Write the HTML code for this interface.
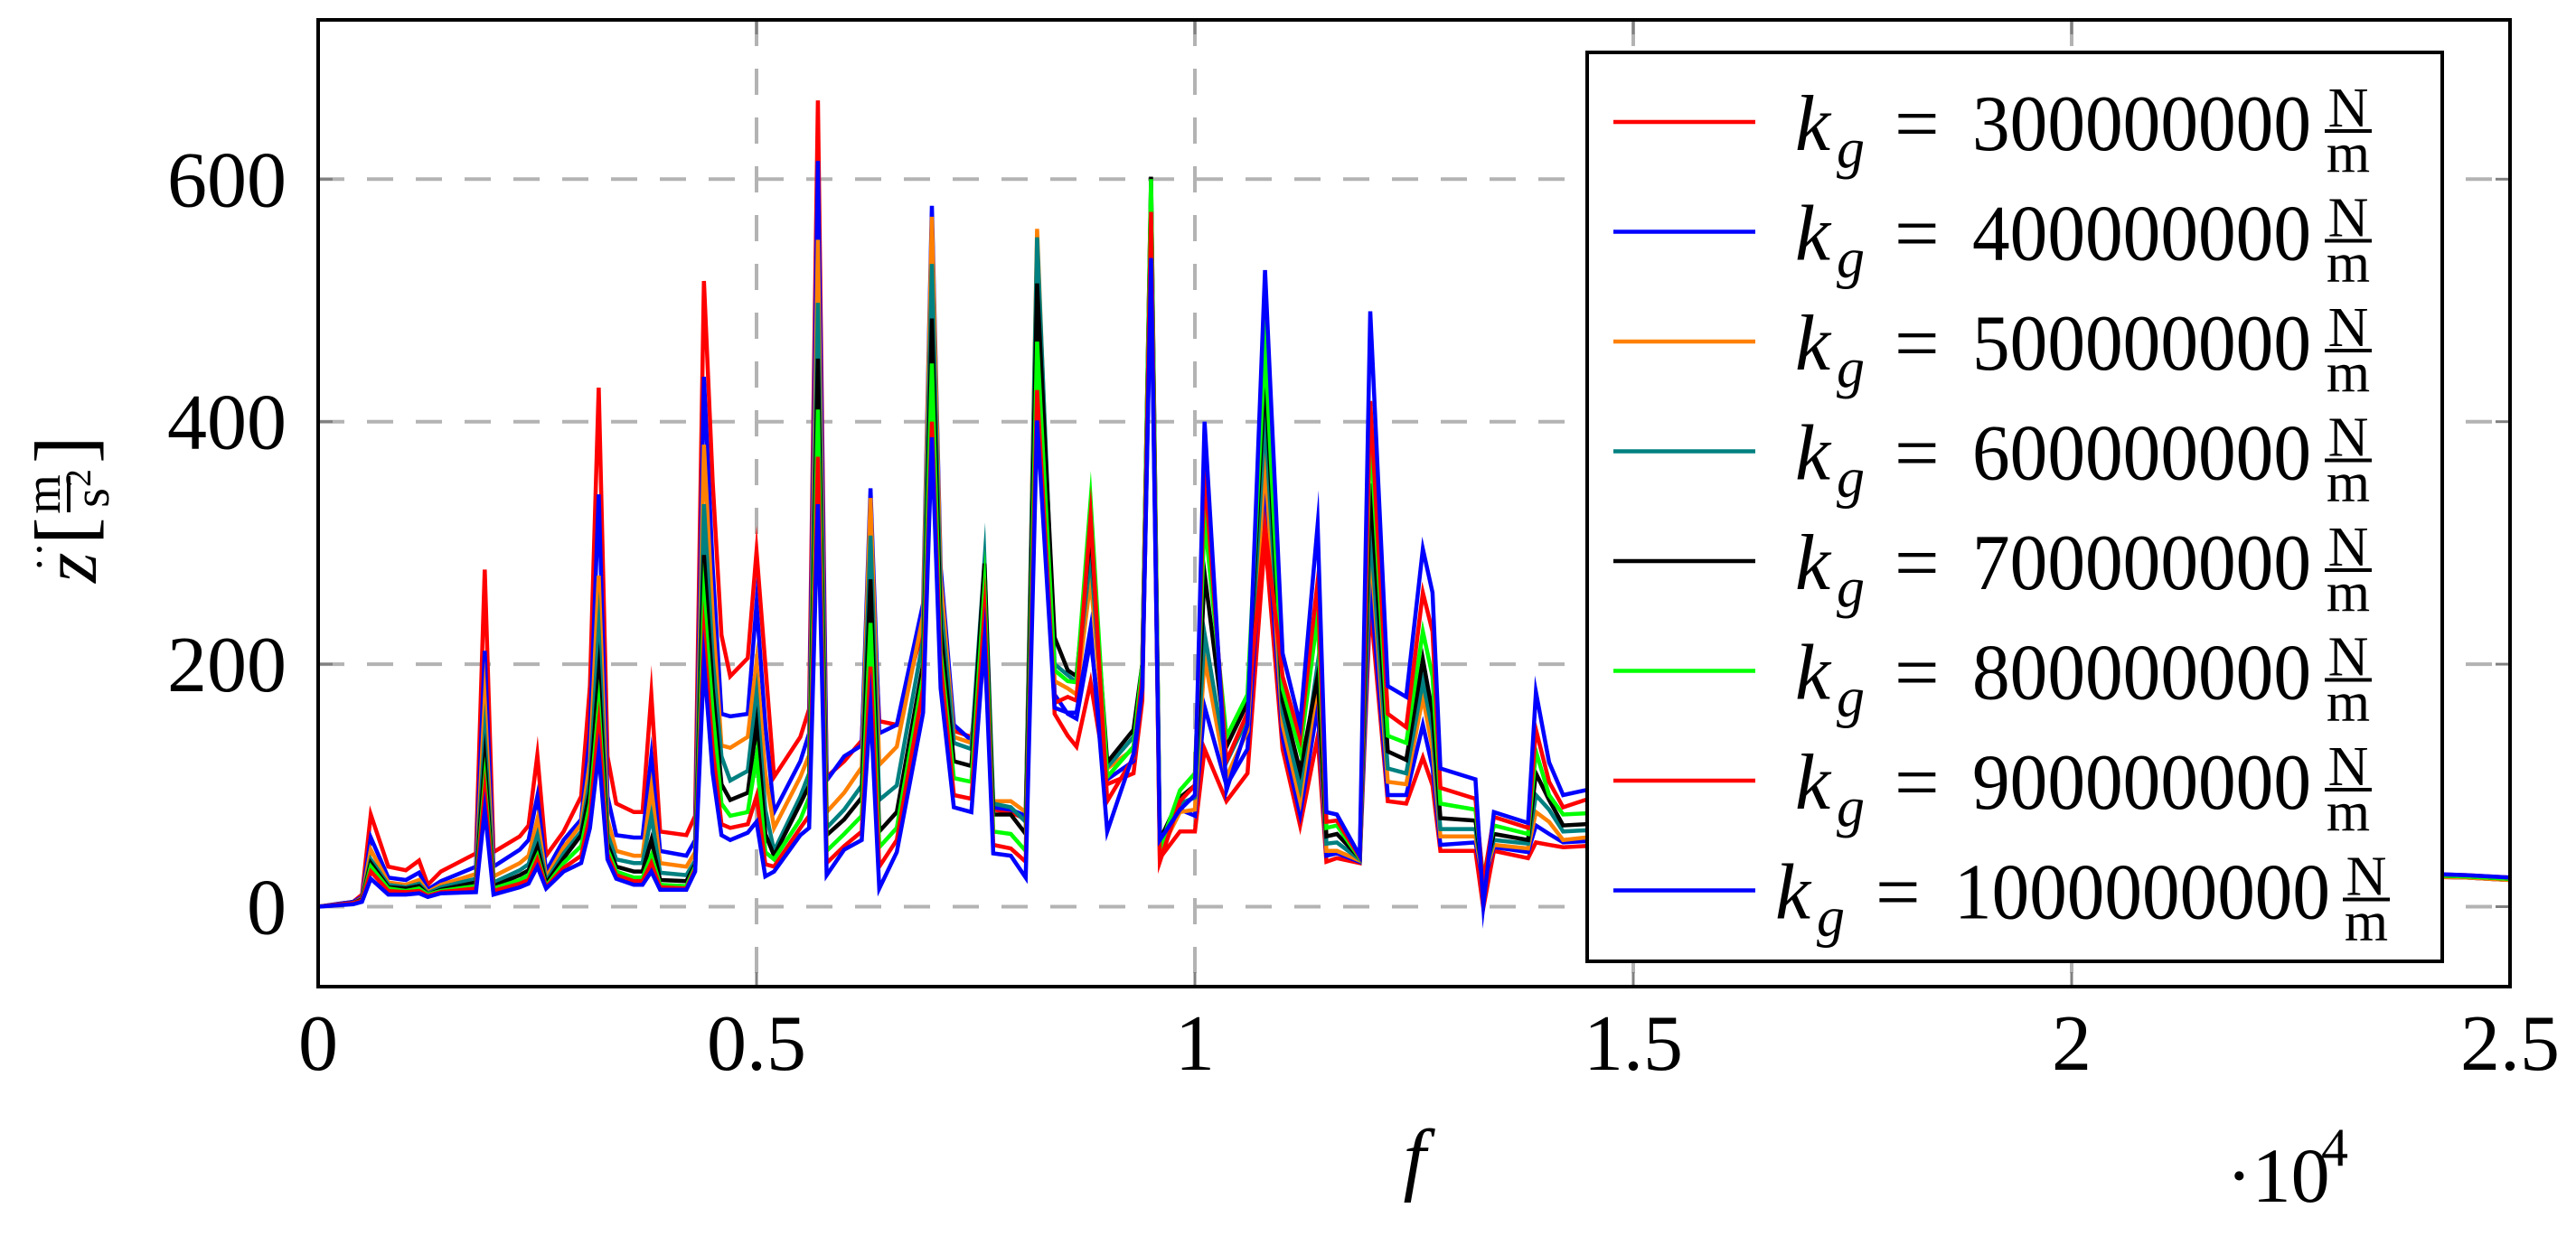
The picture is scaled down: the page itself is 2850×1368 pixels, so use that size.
<!DOCTYPE html>
<html><head><meta charset="utf-8"><style>
html,body{margin:0;padding:0;background:#fff;}
svg{display:block;font-family:"Liberation Serif",serif;}
</style></head><body>
<svg id="chart" width="2850" height="1368" viewBox="0 0 2850 1368" xmlns="http://www.w3.org/2000/svg">
<defs><clipPath id="plotclip"><rect x="352" y="22" width="2425" height="1070"/></clipPath></defs>
<rect x="0" y="0" width="2850" height="1368" fill="#fff"/>
<g id="grid"></g>
<g id="series" clip-path="url(#plotclip)"></g>
<rect x="352" y="22" width="2425" height="1070" fill="none" stroke="#000" stroke-width="4"/>
<g id="ticks"></g>
<text x="1565" y="1312" font-size="90" font-style="italic" text-anchor="middle">f</text>
<g>
<text x="2463" y="1330" font-size="86">·10</text>
<text x="2568" y="1290" font-size="60">4</text>
</g>
<g transform="translate(72,561) rotate(-90)">
<text x="-84" y="34" font-size="86" font-style="italic">z</text>
<text x="-72" y="-12" font-size="50">··</text>
<text x="-42" y="30" font-size="92">[</text>
<text x="14" y="-6" font-size="56" text-anchor="middle">m</text>
<line x1="-6" y1="4" x2="34" y2="4" stroke="#000" stroke-width="4"/>
<text x="10" y="48" font-size="56" text-anchor="middle">s</text>
<text x="22" y="28" font-size="40">2</text>
<text x="48" y="30" font-size="92">]</text>
</g>
<g id="legend"></g>
</svg>
<script>
const freqs = [0,0.04,0.05,0.06,0.08,0.10,0.115,0.125,0.14,0.18,0.19,0.20,0.23,0.24,0.25,0.26,0.28,0.30,0.31,0.32,0.33,0.34,0.36,0.37,0.38,0.39,0.42,0.43,0.44,0.45,0.46,0.47,0.49,0.50,0.51,0.52,0.55,0.56,0.57,0.58,0.60,0.62,0.63,0.64,0.66,0.69,0.70,0.71,0.725,0.745,0.76,0.77,0.79,0.807,0.82,0.84,0.855,0.865,0.881,0.90,0.93,0.94,0.95,0.96,0.983,1.00,1.011,1.036,1.06,1.08,1.10,1.12,1.14,1.15,1.162,1.188,1.20,1.22,1.241,1.26,1.271,1.28,1.32,1.329,1.341,1.38,1.389,1.404,1.42,1.445,1.6,2.0,2.45,2.5];
const kg300 = [0,4,10,76,33,30,38,18,29,44,278,45,58,67,125,42,62,91,182,428,124,85,78,78,175,62,59,75,516,350,224,190,205,293,200,107,140,163,665,107,120,137,300,153,150,230,430,250,145,140,210,80,78,72,520,159,141,132,185,101,110,170,560,40,62,62,130,87,110,304,130,67,140,37,40,36,250,87,85,123,100,46,46,-1,46,40,53,51,49,50,45,30,24,22];
const kg400 = [0,4,8,57,24,22,28,14,21,33,211,33,47,55,91,29,55,72,143,340,91,59,57,57,124,46,42,55,437,280,159,157,159,250,150,78,120,143,615,104,124,133,345,143,150,250,578,280,150,137,215,82,80,75,545,175,159,155,220,105,120,180,530,50,80,75,165,100,130,340,140,76,165,42,44,37,268,92,92,150,115,51,53,20,49,45,67,60,53,54,48,31,24,22];
const kg500 = [0,3,7,47,20,18,22,12,18,27,170,25,36,42,72,24,49,68,120,273,72,46,42,42,98,36,33,45,381,240,133,131,140,202,110,65,107,125,550,78,94,115,337,117,132,240,569,270,140,135,260,87,87,78,559,186,180,175,270,114,130,190,590,45,78,80,205,107,145,367,150,87,185,46,46,38,299,103,101,173,130,58,58,22,51,48,78,70,55,57,50,32,24,22];
const kg600 = [0,3,6,39,18,16,19,11,16,23,141,20,30,35,59,21,44,62,105,228,60,39,36,36,75,28,26,38,332,205,124,104,112,176,80,46,91,110,498,65,80,100,306,88,100,220,530,250,135,130,285,85,82,70,552,200,191,185,290,115,140,200,595,50,85,90,225,119,155,403,160,98,200,52,53,39,313,114,110,186,145,64,64,24,55,52,92,80,62,63,53,33,25,23];
const kg700 = [0,3,6,36,16,15,17,10,14,20,120,17,26,30,49,19,40,59,95,192,52,33,29,29,55,22,21,35,290,180,101,88,94,150,60,42,85,100,452,59,72,90,270,62,78,200,485,230,120,116,283,76,76,60,514,222,195,190,310,119,146,200,602,55,90,100,275,132,168,439,170,112,190,58,60,40,349,128,121,204,160,73,71,24,60,55,110,88,67,68,56,34,25,23];
const kg800 = [0,3,5,33,15,13,15,10,13,17,104,15,22,26,42,17,36,50,85,166,47,29,24,24,42,18,17,33,254,160,85,75,78,124,45,39,72,90,410,46,60,75,234,49,65,190,448,210,106,103,263,62,60,46,466,195,186,185,335,107,132,200,600,48,96,110,320,140,175,462,180,128,240,65,67,40,394,141,135,227,190,85,80,24,67,60,128,92,76,77,60,35,25,23];
const kg900 = [0,3,5,29,13,12,13,9,12,15,95,13,19,22,39,16,32,42,75,150,43,26,21,21,36,16,15,31,224,130,68,65,68,91,35,33,65,75,371,36,50,62,198,33,55,180,400,200,92,89,243,51,48,37,426,168,173,170,322,87,123,190,573,37,87,100,360,120,160,313,190,139,268,70,71,41,417,159,148,259,227,98,89,20,74,65,146,103,82,88,64,36,26,24];
const kg1000 = [0,2,4,23,10,10,11,8,11,12,80,10,16,19,33,15,29,36,65,127,39,23,18,18,29,14,14,29,202,110,59,55,61,70,25,29,59,65,332,26,47,55,165,15,45,160,387,180,82,78,220,44,42,24,401,164,160,160,230,62,126,180,535,55,80,92,400,96,150,525,209,150,315,78,76,42,491,182,173,295,259,114,105,1,78,69,177,119,92,96,68,38,26,24];
const seriesValues = [kg300,kg400,kg500,kg600,kg700,kg800,kg900,kg1000];
const seriesLabels = ["300000000","400000000","500000000","600000000","700000000","800000000","900000000","1000000000"];
const seriesColors = ["#ff0000","#0000ff","#ff8000","#008080","#000000","#00ff00","#ff0000","#0000ff"];
const xTicks = [0,0.5,1,1.5,2,2.5];
const xTickLabels = ["0","0.5","1","1.5","2","2.5"];
const yTicks = [0,200,400,600];
const yTickLabels = ["0","200","400","600"];

const NS = "http://www.w3.org/2000/svg";
const X0 = 352, X1 = 2777, Y0v = 1003.5, PXV = 268.4/200;
function xs(f){ return X0 + (f/2.5)*(X1-X0); }
function ys(v){ return Y0v - v*PXV; }
function mk(tag, attrs, parent){ const e = document.createElementNS(NS, tag); for (const k in attrs) e.setAttribute(k, attrs[k]); parent.appendChild(e); return e; }

const grid = document.getElementById('grid');
const ticks = document.getElementById('ticks');
xTicks.forEach((t,i)=>{
  const x = xs(t);
  if (i>0 && i<xTicks.length-1) {
    const l = mk('line',{x1:x,y1:22,x2:x,y2:1092,stroke:'#b3b3b3','stroke-width':4,'stroke-dasharray':'29 25'},grid);
    
    
  }
  mk('line',{x1:x,y1:1092,x2:x,y2:1076,stroke:'#808080','stroke-width':3},grid);
  mk('line',{x1:x,y1:22,x2:x,y2:38,stroke:'#808080','stroke-width':3},grid);
  const tx = mk('text',{x:x,y:1184,'font-size':88,'text-anchor':'middle'},ticks);
  tx.textContent = xTickLabels[i];
  
  
});
yTicks.forEach((t,i)=>{
  const y = ys(t);
  const l = mk('line',{x1:352,y1:y,x2:2777,y2:y,stroke:'#b3b3b3','stroke-width':4,'stroke-dasharray':'29 25'},grid);
  
  
  mk('line',{x1:352,y1:y,x2:368,y2:y,stroke:'#808080','stroke-width':3},grid);
  mk('line',{x1:2761,y1:y,x2:2777,y2:y,stroke:'#808080','stroke-width':3},grid);
  const tx = mk('text',{x:317,y:y+30,'font-size':88,'text-anchor':'end'},ticks);
  tx.textContent = yTickLabels[i];
  
  
});

const sg = document.getElementById('series');
seriesValues.forEach((vals,si)=>{
  let d = '';
  vals.forEach((v,i)=>{ d += (i?'L':'M') + xs(freqs[i]).toFixed(1) + ',' + ys(v).toFixed(1); });
  const p = mk('path',{d:d,fill:'none',stroke:seriesColors[si],'stroke-width':4.5,'stroke-linejoin':'miter','stroke-miterlimit':20},sg);
  
  
});

const lg = document.getElementById('legend');
const box = mk('rect',{x:1756,y:58,width:946,height:1006,fill:'#fff',stroke:'#000','stroke-width':4},lg);


seriesLabels.forEach((lab,i)=>{
  const ly = 135 + 121.5*i;
  const last = lab.length > 9;
  const g = mk('g',{},lg);
  
  
  mk('line',{x1:1785,y1:ly,x2:1942,y2:ly,stroke:seriesColors[i],'stroke-width':4.5},g);
  const kx = last ? 1964 : 1986;
  const ex = last ? 2075 : 2096;
  const nx = last ? 2162 : 2182;
  const nw = last ? 416 : 375;
  const fc = last ? 2618 : 2598;
  const k = mk('text',{x:kx,y:ly+31,'font-size':88,'font-style':'italic'},g); k.textContent='k';
  const gs = mk('text',{x:kx+46,y:ly+50,'font-size':62,'font-style':'italic'},g); gs.textContent='g';
  const eq = mk('text',{x:ex,y:ly+31,'font-size':88},g); eq.textContent='=';
  const num = mk('text',{x:nx,y:ly+31,'font-size':88,textLength:nw,lengthAdjust:'spacingAndGlyphs'},g); num.textContent=lab;
  const n = mk('text',{x:fc,y:ly+5,'font-size':62,'text-anchor':'middle'},g); n.textContent='N';
  mk('line',{x1:fc-26,y1:ly+10,x2:fc+26,y2:ly+10,stroke:'#000','stroke-width':4},g);
  const m = mk('text',{x:fc,y:ly+55,'font-size':62,'text-anchor':'middle'},g); m.textContent='m';
});
</script>
</body></html>
